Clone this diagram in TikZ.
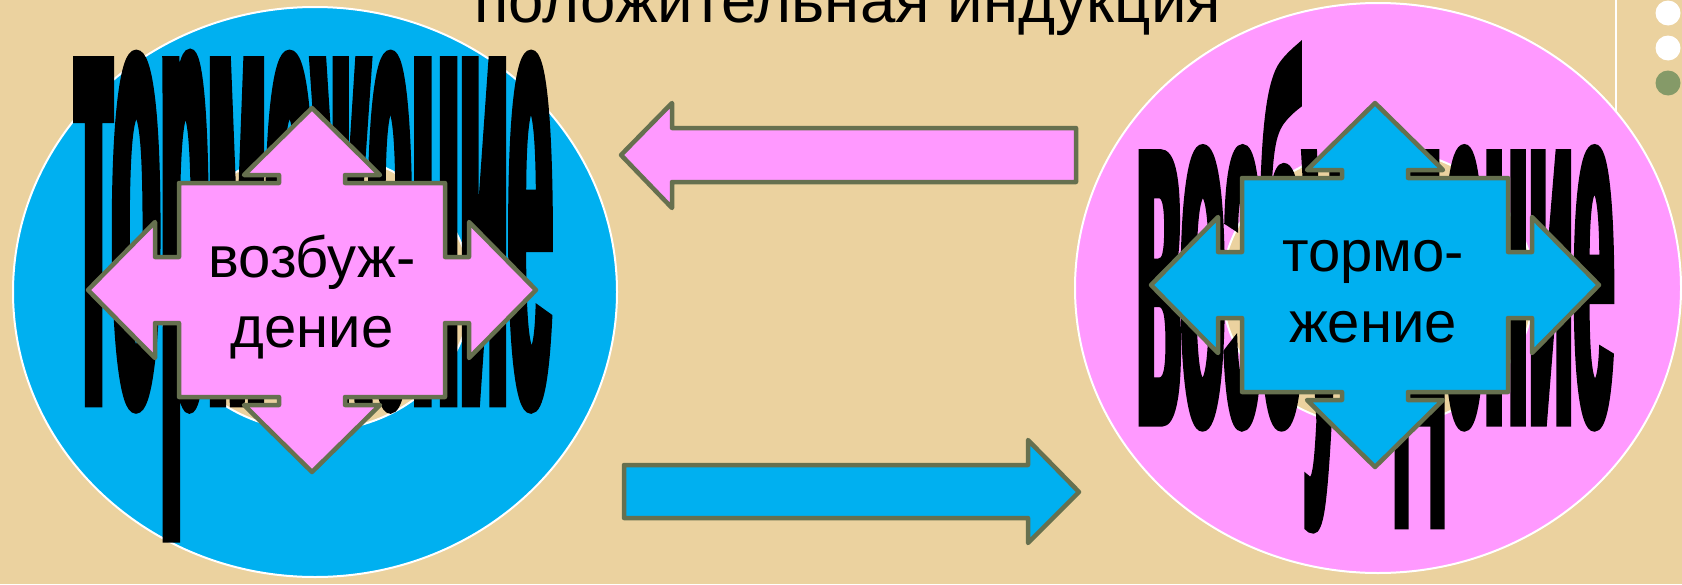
\documentclass[tikz,border=0pt]{standalone}
\usepackage{fontspec}
\setmainfont{Liberation Sans}
\newfontfamily\stretchA{Liberation Sans}[UprightFont={* Bold}, FakeStretch=0.12, FakeBold=1]
\newfontfamily\stretchB{Liberation Sans}[UprightFont={* Bold}, FakeStretch=0.137, FakeBold=1]
\usepackage{graphicx}
\definecolor{bgtan}{HTML}{EBD29F}
\definecolor{pinkc}{HTML}{FF99FF}
\definecolor{bluec}{HTML}{00B0F0}
\definecolor{olivec}{HTML}{66704F}
\definecolor{dotgreen}{HTML}{859A68}
\tikzset{
  quadcallout/.pic={
    \path[pic actions] (0,-182) -- (68,-115) -- (33,-115) -- (33,-107) -- (133,-107) -- (133,-33) -- (157,-33) -- (157,-68) -- (224,0) -- (157,68) -- (157,33) -- (133,33) -- (133,107) -- (33,107) -- (33,115) -- (68,115) -- (0,182) -- (-68,115) -- (-33,115) -- (-33,107) -- (-133,107) -- (-133,33) -- (-157,33) -- (-157,68) -- (-224,0) -- (-157,-68) -- (-157,-33) -- (-133,-33) -- (-133,-107) -- (-33,-107) -- (-33,-115) -- (-68,-115) -- cycle;
  },
  shapeline/.style={draw=olivec, line width=4.5pt, line join=round},
  ringline/.style={draw=white, line width=2pt},
  boxtext/.style={anchor=base, inner sep=0pt, font=\fontsize{58}{70}\selectfont},
  bigtext/.style={anchor=base west, inner sep=0pt},
}
\begin{document}
\begin{tikzpicture}[x=1pt,y=-1pt]
\useasboundingbox (0,0) rectangle (1682,584);
\clip (0,0) rectangle (1682,584);
% background
\fill[bgtan] (0,0) rectangle (1682,584);
% template line and dots
\draw[white, line width=2pt] (1616,0) -- (1616,300);
\fill[white] (1668,13) circle [radius=12.5];
\fill[white] (1668,48) circle [radius=12.5];
\fill[dotgreen] (1668,83) circle [radius=12.5];
% donut rings
\fill[bluec, even odd rule] (315,292) ellipse [x radius=302, y radius=285] (315,292) ellipse [x radius=156, y radius=139];
\draw[ringline] (315,292) ellipse [x radius=302, y radius=285];
\draw[ringline] (315,292) ellipse [x radius=156, y radius=139];
\fill[pinkc, even odd rule] (1378,288) ellipse [x radius=303, y radius=285] (1378,288) ellipse [x radius=156, y radius=139];
\draw[ringline] (1378,288) ellipse [x radius=303, y radius=285];
\draw[ringline] (1378,288) ellipse [x radius=156, y radius=139];
% big stretched words
\node[bigtext] (bigleft) at (74,404) {\resizebox{478pt}{352pt}{\stretchA\fontsize{663}{663}\selectfont торможение}};
\node[bigtext] (bigright) at (1136,424) {\resizebox{478pt}{378pt}{\stretchB\fontsize{524}{524}\selectfont возбуждение}};
% quad arrow callouts
\pic[shapeline, fill=pinkc] at (312,290) {quadcallout};
\pic[shapeline, fill=bluec] at (1375,285) {quadcallout};
\node[boxtext] (lt1) at (312,277) {возбуж-};
\node[boxtext] (lt2) at (312,347) {дение};
\node[boxtext] (rt1) at (1373,271) {тормо-};
\node[boxtext] (rt2) at (1373,342) {жение};
% middle block arrows
\path[shapeline, fill=pinkc] (621,155) -- (672,103) -- (672,128) -- (1076,128) -- (1076,182) -- (672,182) -- (672,208) -- cycle;
\path[shapeline, fill=bluec] (1079,492) -- (1028,440) -- (1028,465) -- (624,465) -- (624,518) -- (1028,518) -- (1028,543) -- cycle;
% title
\node[bigtext] (title) at (474,22) {\resizebox{747pt}{!}{\fontsize{62}{62}\selectfont положительная индукция}};
\end{tikzpicture}
\end{document}
